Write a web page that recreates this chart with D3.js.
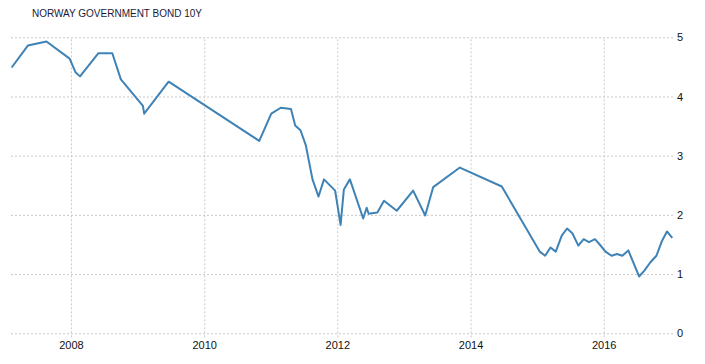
<!DOCTYPE html>
<html>
<head>
<meta charset="utf-8">
<script src="https://cdn.jsdelivr.net/npm/d3@7"></script>
<style>
  html, body { margin: 0; padding: 0; background: #fff; }
  svg { display: block; }
  text { font-family: "Liberation Sans", Arial, sans-serif; }
</style>
</head>
<body>
<svg id="chart" width="705" height="364"></svg>
<script>
const title = "NORWAY GOVERNMENT BOND 10Y";
const dates = [
  "2007-02-10","2007-05-10","2007-08-20","2007-12-25","2008-01-26","2008-02-20",
  "2008-05-30","2008-08-15","2008-10-01","2009-01-30","2009-02-06","2009-06-20",
  "2010-10-30","2011-01-04","2011-02-25","2011-04-22","2011-05-15","2011-06-13",
  "2011-07-12","2011-08-18","2011-09-20","2011-10-20","2011-12-20","2012-01-19",
  "2012-02-06","2012-03-10","2012-05-22","2012-06-10","2012-06-21","2012-08-08",
  "2012-09-13","2012-11-22","2013-02-20","2013-04-27","2013-06-10","2013-11-03",
  "2014-06-21","2015-01-15","2015-02-14","2015-03-15","2015-04-13","2015-05-16",
  "2015-06-14","2015-07-13","2015-08-15","2015-09-13","2015-10-12","2015-11-14",
  "2015-12-10","2016-01-11","2016-02-13","2016-03-14","2016-04-12","2016-05-15",
  "2016-07-13","2016-08-11","2016-09-13","2016-10-16","2016-11-14","2016-12-13",
  "2017-01-11"
];
const yields = [
  4.49,4.86,4.93,4.64,4.41,4.34,
  4.73,4.73,4.29,3.84,3.71,4.25,
  3.25,3.71,3.81,3.79,3.51,3.43,
  3.18,2.60,2.31,2.60,2.41,1.83,
  2.43,2.60,1.94,2.12,2.02,2.04,
  2.24,2.07,2.41,1.99,2.47,2.80,
  2.48,1.38,1.31,1.45,1.38,1.65,
  1.77,1.69,1.48,1.59,1.54,1.59,
  1.50,1.38,1.31,1.34,1.31,1.40,
  0.96,1.06,1.20,1.31,1.55,1.72,
  1.61
];
const yTicks = [0, 1, 2, 3, 4, 5];
const xTickYears = ["2008", "2010", "2012", "2014", "2016"];

const parse = d3.timeParse("%Y-%m-%d");
const data = dates.map((d, i) => ({ date: parse(d), value: yields[i] }));

const svg = d3.select("#chart");
const plotLeft = 10, plotRight = 673, plotTop = 37.3, plotBottom = 333.3;

const x = d3.scaleTime()
  .domain([parse("2007-02-01"), parse("2017-01-15")])
  .range([plotLeft, plotRight]);
const y = d3.scaleLinear().domain([0, 5]).range([plotBottom, plotTop]);

svg.append("text")
  .attr("x", 32).attr("y", 17)
  .attr("font-size", 10)
  .attr("fill", "#1a1a3a")
  .text(title);

// horizontal grid + right axis
const yAxis = d3.axisRight(y).tickValues(yTicks).tickSize(-(plotRight - plotLeft)).tickPadding(4).tickFormat(d3.format("d"));
const gy = svg.append("g").attr("transform", `translate(${plotRight},0)`).call(yAxis);
gy.select(".domain").remove();
gy.selectAll(".tick line").attr("stroke", "#c8c8c8").attr("stroke-dasharray", "2,2").attr("stroke-width", 1);
gy.selectAll(".tick text").attr("font-size", 11).attr("fill", "#111").attr("font-family", "Liberation Sans, Arial, sans-serif");

// vertical grid + bottom axis
const xAxis = d3.axisBottom(x)
  .tickValues(xTickYears.map(s => parse(s + "-01-01")))
  .tickSize(-(plotBottom - plotTop + 4))
  .tickPadding(4)
  .tickFormat(d3.timeFormat("%Y"));
const gx = svg.append("g").attr("transform", `translate(0,${plotBottom + 4})`).call(xAxis);
gx.select(".domain").remove();
gx.selectAll(".tick line").attr("stroke", "#c8c8c8").attr("stroke-dasharray", "2,2").attr("stroke-width", 1);
gx.selectAll(".tick text").attr("font-size", 11).attr("fill", "#111").attr("font-family", "Liberation Sans, Arial, sans-serif");

const line = d3.line().x(d => x(d.date)).y(d => y(d.value));
svg.append("path")
  .datum(data)
  .attr("fill", "none")
  .attr("stroke", "#3f82b6")
  .attr("stroke-width", 2)
  .attr("stroke-linejoin", "round")
  .attr("d", line);
</script>
</body>
</html>
